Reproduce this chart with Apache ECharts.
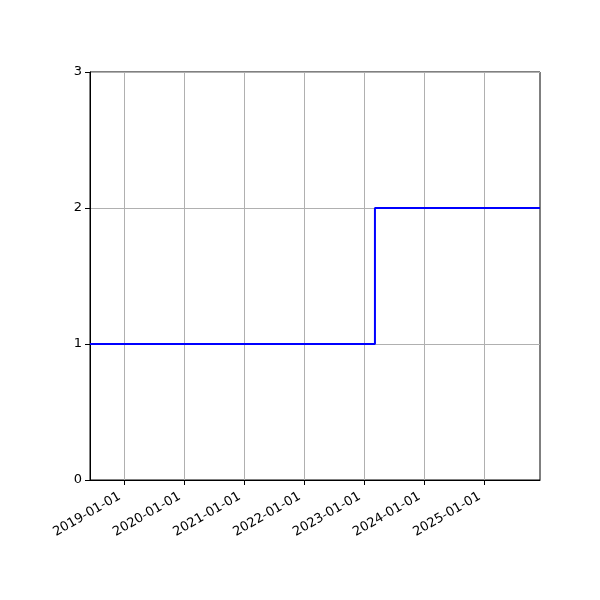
<!DOCTYPE html>
<html>
<head>
<meta charset="utf-8">
<script src="https://cdn.jsdelivr.net/npm/echarts@6/dist/echarts.min.js"></script>
<style>
  html, body { margin: 0; padding: 0; background: #fff; }
  #chart { width: 600px; height: 600px; }
</style>
</head>
<body>
<div id="chart"></div>
<script>
// step data (date, value)
var dates = ['2018-06-08', '2023-03-09', '2025-12-08'];
var values = [1, 2, 2];
var tickDates = ['2019-01-01', '2020-01-01', '2021-01-01', '2022-01-01', '2023-01-01', '2024-01-01', '2025-01-01'];
var yTicks = [0, 1, 2, 3];

var toTime = function (s) { return new Date(s + 'T00:00:00Z').getTime(); };
var pad = function (n) { return n < 10 ? '0' + n : '' + n; };
var fmtDate = function (t) {
  var d = new Date(t);
  return d.getUTCFullYear() + '-' + pad(d.getUTCMonth() + 1) + '-' + pad(d.getUTCDate());
};

var tickTimes = tickDates.map(toTime);
var points = dates.map(function (d, i) { return [toTime(d), values[i]]; });

var chart = echarts.init(document.getElementById('chart'), null, { renderer: 'canvas' });
var font = 'DejaVu Sans';

chart.setOption({
  animation: false,
  backgroundColor: '#fff',
  grid: { left: 90, right: 60, top: 72, bottom: 120, show: true, borderColor: '#000', borderWidth: 1 },
  xAxis: {
    type: 'value',
    min: toTime(dates[0]),
    max: toTime(dates[dates.length - 1]),
    axisLine: { show: true, onZero: false, lineStyle: { color: '#000', width: 1 } },
    axisTick: { show: true, length: 5, customValues: tickTimes, lineStyle: { color: '#000' } },
    axisLabel: {
      customValues: tickTimes,
      rotate: 30,
      margin: 13,
      padding: [0, 5, 0, 0],
      color: '#000',
      fontFamily: font,
      fontSize: 13,
      formatter: function (v) { return fmtDate(v); }
    },
    splitLine: { show: false }
  },
  yAxis: {
    type: 'value',
    min: yTicks[0],
    max: yTicks[yTicks.length - 1],
    interval: 1,
    axisLine: { show: true, lineStyle: { color: '#000', width: 1 } },
    axisTick: { show: true, length: 5, lineStyle: { color: '#000' } },
    axisLabel: { color: '#000', fontFamily: font, fontSize: 13, margin: 8 },
    splitLine: { show: true, lineStyle: { color: '#b0b0b0', width: 1 } }
  },
  series: [
    {
      type: 'line',
      step: 'end',
      data: points,
      symbol: 'none',
      lineStyle: { color: '#0000ff', width: 2 },
      markLine: {
        silent: true,
        symbol: 'none',
        label: { show: false },
        lineStyle: { color: '#b0b0b0', width: 1, type: 'solid' },
        data: tickTimes.map(function (t) { return { xAxis: t }; }),
        z: 1
      },
      z: 3
    }
  ]
});
</script>
</body>
</html>
